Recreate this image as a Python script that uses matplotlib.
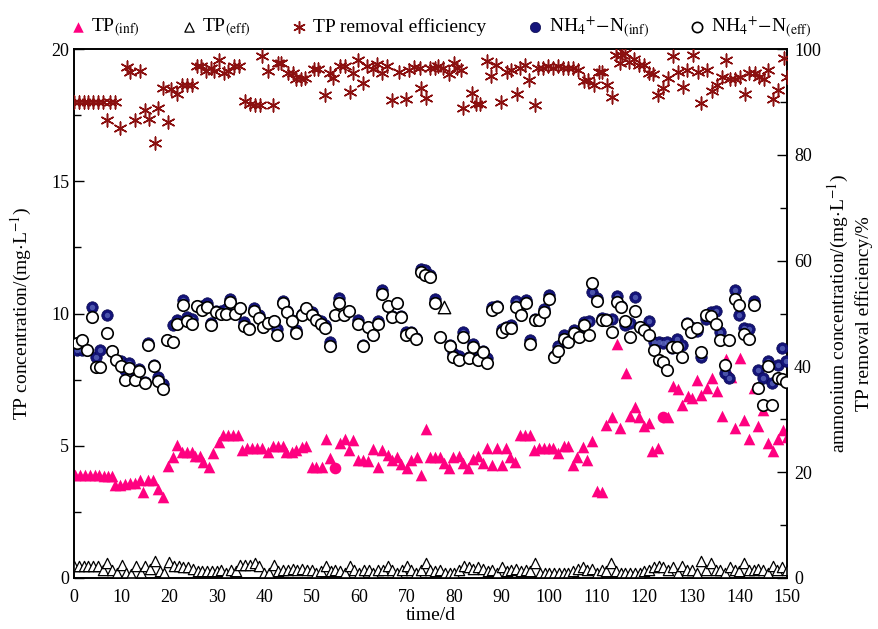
import numpy as np
import matplotlib
matplotlib.use("Agg")
from matplotlib import pyplot as plt
from matplotlib.ticker import MultipleLocator

plt.rcParams['font.family'] = ['Liberation Serif', 'DejaVu Serif']
plt.rcParams['mathtext.fontset'] = 'stix'
plt.rcParams['font.size'] = 13

# TP influent (mg/L), left axis
tp_inf_day = [0.2, 1.3, 2.3, 3.4, 4.4, 5.3, 6.3, 7.2, 7.9, 8.6, 9.7, 10.7, 11.8, 12.8, 13.9,
              14.6, 15.6, 16.7, 17.7, 18.8, 19.8, 20.9, 21.7, 22.7, 23.7, 24.8, 25.5, 26.5,
              27.2, 28.3, 29.3, 30.4, 31.4, 32.5, 33.5, 34.6, 35.3, 36.3, 37.4, 38.4, 39.5,
              40.9, 41.9, 43, 44, 44.7, 45.8, 46.8, 47.9, 48.9, 50, 51, 52.1, 53, 53.9,
              56, 57, 57.9, 58.8, 59.8, 60.9, 61.9, 62.9, 64, 64.9, 66, 67, 68, 68.9,
              70, 71, 72.1, 73, 74.1, 75, 76, 77, 77.8, 78.8, 79.8, 80.9, 81.8, 82.9, 84,
              84.9, 86, 86.8, 87.9, 88.9, 90, 90.9, 91.7, 92.8, 93.8, 94.9, 95.9, 96.8,
              97.8, 98.9, 99.9, 100.8, 101.9, 103, 104, 104.9, 105.9, 107, 108, 108.9,
              110, 111.1, 111.9, 113.1, 114.2, 114.9, 116.1, 116.9, 118, 118.9, 119.9,
              121, 121.7, 122.9, 125, 126.1, 127, 128, 129.1, 130.1, 131.1, 132, 133.1,
              134.2, 135.2, 136.3, 137.2, 138.2, 139.1, 140.1, 141, 142.1, 143.1, 144,
              145, 146.1, 147, 148.2, 149.1, 150]
tp_inf = [3.9, 3.9, 3.9, 3.9, 3.9, 3.9, 3.85, 3.85, 3.85, 3.5, 3.5, 3.55, 3.6, 3.6, 3.7,
          3.26, 3.7, 3.7, 3.35, 3.05, 4.23, 4.56, 5.03, 4.78, 4.78, 4.78, 4.6, 4.6,
          4.4, 4.2, 4.74, 5.15, 5.4, 5.4, 5.4, 5.4, 4.84, 4.9, 4.9, 4.9, 4.9,
          4.76, 5.0, 5.0, 5.0, 4.76, 4.76, 4.84, 4.96, 5.0, 4.2, 4.2, 4.2, 5.24, 4.52,
          5.12, 5.24, 4.84, 5.22, 4.46, 4.46, 4.42, 4.87, 4.2, 4.84, 4.65, 4.46, 4.58, 4.3,
          4.15, 4.46, 4.56, 3.9, 5.62, 4.58, 4.58, 4.58, 4.36, 4.15, 4.58, 4.6, 4.36, 4.15, 4.49,
          4.6, 4.36, 4.9, 4.27, 4.9, 4.27, 4.9, 4.58, 4.4, 5.4, 5.4, 5.4, 4.84,
          4.9, 4.9, 4.9, 4.9, 4.72, 5.0, 5.0, 4.27, 4.57, 4.96, 4.46, 5.19,
          3.3, 3.27, 5.8, 6.07, 8.83, 5.67, 7.76, 6.13, 6.47, 6.1, 5.73,
          5.87, 4.8, 4.93, 6.07, 7.27, 7.16, 6.53, 6.87, 6.8, 7.47, 6.93, 7.2,
          7.56, 7.07, 6.13, 8.27, 7.6, 5.69, 8.31, 5.96, 5.27, 7.2, 5.76,
          6.36, 5.11, 4.8, 5.27, 5.6, 5.33]
# two influent points drawn as circles in the original
tp_inf_circ_day = [54.9, 123.9]
tp_inf_circ = [4.15, 6.07]

# TP effluent (mg/L), one per day
tp_eff = [0.45, 0.45, 0.45, 0.45, 0.45, 0.45, 0.3, 0.55, 0.3, 0.2,
          0.5, 0.2, 0.15, 0.45, 0.2, 0.45, 0.35, 0.65, 0.25, 0.2,
          0.6, 0.45, 0.45, 0.4, 0.4, 0.35, 0.25, 0.25, 0.25, 0.25,
          0.25, 0.3, 0.2, 0.3, 0.25, 0.5, 0.5, 0.5, 0.55, 0.45,
          0.2, 0.2, 0.5, 0.25, 0.3, 0.3, 0.35, 0.3, 0.35, 0.3,
          0.3, 0.2, 0.25, 0.45, 0.25, 0.3, 0.25, 0.2, 0.45, 0.3,
          0.2, 0.3, 0.3, 0.2, 0.3, 0.3, 0.45, 0.3, 0.2, 0.3,
          0.45, 0.3, 0.2, 0.3, 0.55, 0.3, 0.25, 0.3, 0.2, 0.2,
          0.2, 0.3, 0.47, 0.4, 0.35, 0.4, 0.35, 0.25, 0.3, 0.2,
          0.4, 0.25, 0.3, 0.35, 0.25, 0.3, 0.25, 0.55, 0.2, 0.18,
          0.18, 0.18, 0.18, 0.2, 0.2, 0.25, 0.35, 0.4, 0.3, 0.35,
          0.2, 0.3, 0.25, 0.55, 0.25, 0.18, 0.18, 0.18, 0.18, 0.2,
          0.25, 0.3, 0.4, 0.45, 0.4, 0.3, 0.4, 0.2, 0.47, 0.3,
          0.3, 0.2, 0.63, 0.3, 0.55, 0.3, 0.3, 0.2, 0.4, 0.3,
          0.25, 0.55, 0.3, 0.3, 0.35, 0.3, 0.2, 0.47, 0.3, 0.4,
          0.3]
tp_eff_day = list(range(len(tp_eff)))
tp_eff_extra_day = [77.9]
tp_eff_extra = [10.26]

# TP removal efficiency (%), right axis
rem_day = [0, 1, 2, 3, 4, 5, 6, 6.9, 7.6, 8.6, 9.7, 11.1, 11.8, 12.8, 13.9, 14.9, 15.8, 17,
           17.7, 18.8, 19.8, 20.5, 21.6, 22.7, 23.7, 24.8, 25.8, 26.8, 27.7, 28.8, 29.5,
           30.5, 31.5, 32.5, 33.6, 34.7, 36, 37, 38.1, 39.1, 39.5, 40.9, 41.9, 42.9, 43.6,
           45.1, 46.1, 46.6, 47.7, 48.7, 50.4, 51.4, 52.8, 53.8, 54.5, 56, 57, 58.1, 58.8,
           59.8, 60.9, 61.7, 62.8, 63.8, 64.8, 65.8, 67, 68.4, 69.8, 70.4, 71.5,
           72.8, 73.1, 74.1, 74.9, 75.9, 76.6, 77.6, 78.8, 79.9, 80.6, 81.4, 81.9, 83.8,
           84.5, 85.5, 86.8, 87.8, 88.8, 89.9, 91, 92, 93.1, 93.8, 94.8, 95.8, 97, 97.7,
           98.7, 99.8, 100.8, 101.8, 102.9, 103.9, 105, 106.1, 107.2, 108.2, 109.4, 110.4,
           111.1, 112.2, 113.1, 114.1, 114.8, 115.2, 115.9, 116.8, 117.9, 118.9, 119.9,
           120.9, 121.8, 122.9, 123.9, 124.9, 126, 127, 128.2, 128.9, 130.2, 131.2, 132,
           133.1, 134.2, 135.2, 136.3, 137.2, 138, 139.1, 140.1, 141.1, 142.1, 143.2,
           144.2, 145.1, 146.1, 147.1, 148.2, 149.3, 150]
rem_eff = [90, 90, 90, 90, 90, 90, 90, 86.6, 90, 90, 85, 96.7, 95.7, 86.6, 95.9, 88.5, 86.8, 82.3,
           88.8, 92.6, 86.3, 92.4, 91.5, 93.3, 93.3, 93.3, 96.8, 96.8, 95.8, 96.4, 95.8,
           97.9, 95.5, 95.8, 96.8, 96.8, 90.2, 89.6, 89.4, 89.4, 98.6, 95.9, 89.5, 97.3, 97.3,
           95.4, 95.4, 94.3, 94.3, 94.5, 96.3, 96.3, 91.3, 95.4, 94.5, 96.8, 96.8, 91.9, 95.5,
           98, 93.6, 96.8, 96.2, 97.1, 95.5, 96.8, 90.4, 95.6, 90.6, 96.0, 96.6,
           96.5, 92.6, 90.7, 96.5, 96.5, 96.8, 96.5, 95.2, 97.4, 96.5, 96, 88.8, 91.6,
           89.6, 89.6, 97.8, 94.9, 97, 90, 95.6, 96, 91.5, 96.5, 97, 94.2, 89.4, 96.5,
           96.5, 96.8, 96.5, 96.8, 96.5, 96.5, 96.5, 96, 94, 94.2, 93.2, 95.6,
           95.6, 93.2, 91, 98.9, 97.3, 98.9, 99.2, 97.5, 98.2, 97, 97,
           95.5, 95.2, 91.3, 92.6, 94.5, 98.6, 95.6, 92.9, 96, 98.9, 95.6, 89.8,
           96, 92, 93.2, 94.8, 97.9, 94.3, 94.3, 94.8, 91.5, 95.4, 95.4,
           94.8, 94.3, 96, 90.5, 92.2, 98.4, 94.8]

# ammonium (mg/L), right axis
nh4_day = [0.6, 1.6, 2.8, 3.7, 4.6, 5.5, 6.9, 7.9, 8.8, 9.8, 10.7, 11.6, 12.8, 13.7, 14.9,
           15.6, 16.8, 17.7, 18.8, 19.6, 20.8, 21.7, 22.9, 23.8, 24.9, 25.8, 26.9, 27.9,
           28.9, 29.9, 30.9, 31.9, 32.8, 33.9, 34.9, 35.8, 36.9, 37.9, 38.9, 39.8, 40.9,
           42.0, 42.8, 43.9, 44.9, 45.9, 46.8, 47.9, 48.9, 50.0, 50.9, 51.9, 52.9, 53.9,
           54.9, 55.8, 56.8, 57.9, 59.8, 60.9, 61.9, 62.9, 64.0, 64.9, 66.0, 66.9, 67.9,
           68.9, 69.8, 71.0, 71.9, 73.0, 73.8, 74.9, 75.9, 77.0, 79, 79.8, 80.9, 81.9, 83,
           83.9, 84.9, 86, 86.8, 87.9, 88.9, 90, 90.9, 91.9, 93.0, 94.0, 95.1, 95.9, 96.9,
           97.9, 98.9, 100, 100.9, 101.9, 103, 104, 105.1, 106.2, 107.2, 108.3, 109, 110.1,
           111, 112, 113.1, 114.2, 115.0, 115.9, 116.9, 118, 119, 119.9, 121, 122.1, 123,
           124, 124.8, 125.9, 126.9, 128, 128.9, 129.9, 131, 132, 132.9, 134, 135, 136,
           136.9, 137.9, 139, 139.9, 140.9, 142, 143, 143.9, 145, 146, 146.9, 148.1, 149,
           149.8]
nh4_inf = [43.1, 43.1, 43.1, 51.2, 41.8, 43.1, 49.7, 43, 41.2, 41, 39.3, 40.6, 37.8, 39.5, 37,
           44.5, 40.3, 38, 36.6, 45, 47.8, 48.8, 52.5, 49.3, 49, 51.5, 51.5, 52,
           48.3, 50.5, 50.5, 50.8, 52.8, 50, 51, 48.4, 47.3, 51, 49.8, 47.5, 48.3,
           48.6, 47, 52.4, 50.5, 48.8, 46.9, 49.9, 51, 50.3, 49, 48.5, 47.8, 44.7,
           49.8, 53, 49.7, 50.5, 48.8, 44, 47.5, 46, 48.5, 54.4, 51.5, 49.5, 52,
           49.6, 46.5, 46.5, 45.3, 58.4, 58.2, 57.3, 52.8, 45.6, 44, 42.5, 42, 46.5, 41.8,
           44.2, 41.8, 43, 41.5, 51.3, 51.5, 47, 47.5, 47.8, 52.3, 50, 52.5, 45, 49,
           49, 50.8, 53.5, 42, 43.9, 45.9, 45, 46.8, 46, 48.4, 48.6, 54.1, 53,
           49.1, 49, 49, 53.3, 51.5, 47.9, 48.2, 53.1, 47.5, 47, 48.6, 44.7, 44.7,
           44.5, 44.7, 43.4, 45.2, 44, 48.3, 47.5, 46.7, 41.7, 48.9, 50.2, 50.4, 46.6,
           38.7, 37.8, 54.4, 49.7, 47.2, 47, 52.4, 39.3, 37.8, 41, 36.8, 40.3, 43.4,
           41]
nh4_eff = [44.5, 45, 43.1, 49.4, 39.8, 39.8, 46.4, 43, 41.2, 40, 37.4, 39.7, 37.4, 39.2, 36.8,
           44, 40.1, 37.3, 35.7, 45, 44.7, 48.1, 51.7, 48.6, 48, 51.4, 50.7, 51.3,
           47.8, 50.3, 49.9, 49.9, 52.2, 50, 51, 47.6, 47, 50.5, 49.1, 47.5, 48.3,
           48.6, 45.9, 51.9, 50.3, 48.5, 46.4, 49.7, 51, 49.7, 48.8, 48, 47.2, 43.9,
           49.7, 52, 49.7, 50.5, 48.1, 43.9, 47.5, 45.9, 48, 53.6, 51.4, 49.3, 52,
           49.4, 45.9, 46.4, 45.1, 57.9, 57.3, 57, 52, 45.6, 43.9, 41.8, 41.3, 45.5, 41.5,
           43.6, 41.2, 42.8, 40.6, 50.7, 51.3, 46.6, 47.2, 47.2, 51.2, 49.7, 51.9, 44.2, 48.8,
           48.8, 50.2, 52.7, 41.8, 43, 45.1, 44.7, 46.4, 45.5, 47.8, 45.9, 55.8, 52.4,
           48.8, 48.8, 46.6, 52.2, 51.2, 48.5, 45.6, 50.5, 47.5, 46.9, 45.9, 43.1, 41.2,
           40.9, 39.3, 43.7, 43.7, 41.8, 48.1, 46.6, 47.2, 42.8, 49.7, 49.5, 48, 45,
           40.3, 45, 52.7, 51.6, 46.1, 45.2, 51.6, 35.9, 32.7, 40, 32.7, 37.9, 37.6,
           37]

fig = plt.figure(figsize=(8.79, 6.29), dpi=100)
ax = fig.add_axes([0.0842, 0.0811, 0.8111, 0.8409])
ax2 = ax.twinx()

pink = '#ff0080'
navy = '#14147a'

h1 = ax.scatter(tp_inf_day, tp_inf, marker='^', s=70, color=pink, linewidths=0, zorder=3)
ax.scatter(tp_inf_circ_day, tp_inf_circ, marker='o', s=70, color=pink, linewidths=0, zorder=3)
h2 = ax.scatter(tp_eff_day, tp_eff, marker='^', s=55, facecolor='white', edgecolor='black',
                linewidths=0.9, zorder=3)
ax.scatter(tp_eff_extra_day, tp_eff_extra, marker='^', s=80, facecolor='white',
           edgecolor='black', linewidths=1.0, zorder=3)

h3 = ax2.scatter(rem_day, rem_eff, marker=(6, 2, 0), s=85, color='#8b1010',
                 linewidths=1.1, zorder=4)
h4 = ax2.scatter(nh4_day, nh4_inf, marker='o', s=68, color=navy, edgecolor='#0a0a50',
                 linewidths=0.5, zorder=4)
ax2.scatter(nh4_day, nh4_inf, marker='o', s=15, color='#7080d0', alpha=0.6,
            linewidths=0, zorder=4)
h5 = ax2.scatter(nh4_day, nh4_eff, marker='o', s=68, facecolor='white', edgecolor='black',
                 linewidths=1.2, zorder=5)

ax.set_xlim(0, 150)
ax.set_ylim(0, 20)
ax2.set_ylim(0, 100)
ax.xaxis.set_major_locator(MultipleLocator(10))
ax.yaxis.set_major_locator(MultipleLocator(5))
ax.yaxis.set_minor_locator(MultipleLocator(2.5))
ax2.yaxis.set_major_locator(MultipleLocator(20))
ax2.yaxis.set_minor_locator(MultipleLocator(10))
ax.tick_params(axis='both', which='both', direction='in', labelsize=13)
ax.tick_params(axis='y', which='major', length=7, width=1)
ax.tick_params(axis='y', which='minor', length=5, width=1)
ax.tick_params(axis='x', which='major', length=0, pad=8)
ax2.tick_params(axis='y', which='both', direction='in', labelsize=13, pad=5)
ax2.tick_params(axis='y', which='major', length=7, width=1)
ax2.tick_params(axis='y', which='minor', length=5, width=1)
for a in (ax, ax2):
    for sp in a.spines.values():
        sp.set_linewidth(1.2)

ax.set_xlabel('time/d', fontsize=14, labelpad=1)
ax.set_ylabel(r'TP concentration/(mg$\cdot$L$^{-1}$)', fontsize=14, labelpad=12)
ax2.set_ylabel('ammonium concentration/(mg$\\cdot$L$^{-1}$)\nTP removal efficiency/%',
               fontsize=14, labelpad=4, linespacing=1.3)

labels = [r'TP$_{\rm (inf)}$', r'TP$_{\rm (eff)}$', 'TP removal efficiency',
          r'NH$_4$$^{+}$$-$N$_{\rm (inf)}$', r'NH$_4$$^{+}$$-$N$_{\rm (eff)}$']
fig.legend([h1, h2, h3, h4, h5], labels, loc='upper center', bbox_to_anchor=(0.5, 1.005),
           ncol=5, frameon=False, fontsize=14, handletextpad=0.2, columnspacing=2.0,
           handlelength=1.0, markerscale=0.9)

fig.savefig('out.png', dpi=100)
